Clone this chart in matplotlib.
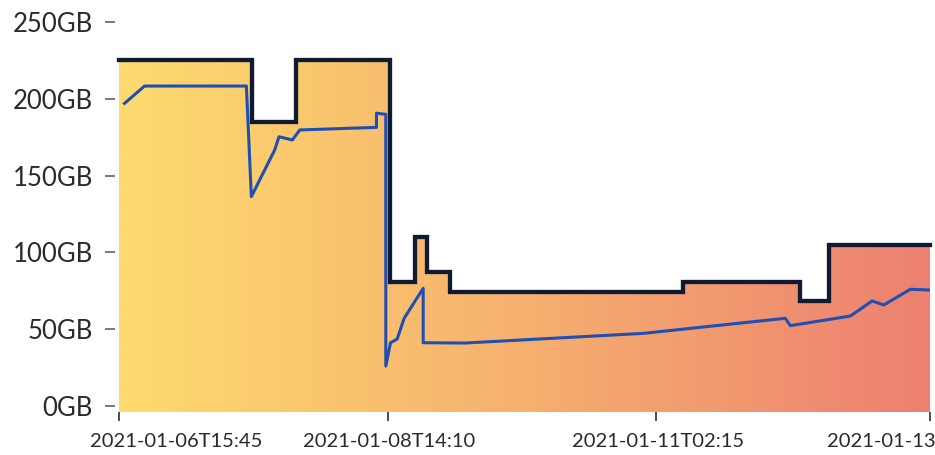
import numpy as np
import matplotlib.pyplot as plt
from matplotlib.colors import LinearSegmentedColormap

# capacity (step line), x in percent of the time axis
cap_x = [0, 16.46, 21.89, 33.48, 36.56, 38.04, 40.88, 69.61, 84.03, 87.61, 100]
cap_gb = [225, 185, 225, 81, 110, 87.5, 74, 80.5, 68.5, 104.5, 104.5]

# usage (blue line)
use_x = [0.74, 3.21, 15.77, 16.38, 19.26, 19.79, 21.44, 22.35, 31.81, 31.81, 32.96,
         32.96, 33.54, 34.36, 35.22, 37.57, 37.57, 42.72, 64.73, 82.22, 82.84,
         90.25, 92.93, 94.36, 97.65, 100]
use_gb = [197, 208.3, 208.3, 136.3, 166.7, 175.3, 173.2, 179.7, 181.4, 190.6, 189.9,
          26, 41.2, 43.6, 57.1, 76.6, 41.2, 41.0, 47.3, 57.1, 52.3,
          58.6, 68.4, 65.8, 76.0, 75.5]

tick_x = [0, 33.2, 66.25, 100]
tick_labels = ['2021-01-06T15:45', '2021-01-08T14:10', '2021-01-11T02:15', '2021-01-13']
label_x = [7.1, 33.4, 66.5, 94.0]
y_ticks = [0, 50, 100, 150, 200, 250]

plt.rcParams['font.family'] = ['Lato', 'DejaVu Sans']

fig = plt.figure(figsize=(9.35, 4.55), dpi=100)
ax = fig.add_axes([118.5 / 935, 43.3 / 455, 811 / 935, 401.7 / 455])
ymin, ymax = -3.7, 257.8
ax.set_xlim(0, 100)
ax.set_ylim(ymin, ymax)

# gradient-filled area under the capacity step
cmap = LinearSegmentedColormap.from_list('warm', ['#fddb6e', '#f6b06e', '#ed8071'])
grad = np.linspace(0, 1, 512).reshape(1, -1)
im = ax.imshow(grad, cmap=cmap, aspect='auto', extent=[0, 100, ymin, ymax],
               origin='lower', zorder=1)
poly = ax.fill_between(cap_x, ymin, cap_gb, step='post', facecolor='none',
                       edgecolor='none')
im.set_clip_path(poly.get_paths()[0], ax.transData)

ax.plot(cap_x, cap_gb, drawstyle='steps-post', color='#111a33', lw=3.1,
        solid_joinstyle='miter', zorder=3, clip_on=False)
ax.plot(use_x, use_gb, color='#1f4fb3', lw=2.2, zorder=4)

for s in ax.spines.values():
    s.set_visible(False)
ax.spines['left'].set_position(('outward', 2.2))

ax.set_yticks(y_ticks)
ax.set_yticklabels([f'{v}GB' for v in y_ticks], fontsize=18.5, color='#2a2a2a')
ax.tick_params(axis='y', length=7.2, width=1.1, color='#555555', pad=9)

ax.set_xticks(tick_x)
ax.set_xticklabels([])
ax.tick_params(axis='x', length=6.5, width=1.1, color='#111a33')
for lx, lab in zip(label_x, tick_labels):
    ax.text(lx, -0.052, lab, transform=ax.get_xaxis_transform(), ha='center',
            va='top', fontsize=14.5, color='#2a2a2a')

plt.savefig('out.png', dpi=100)
